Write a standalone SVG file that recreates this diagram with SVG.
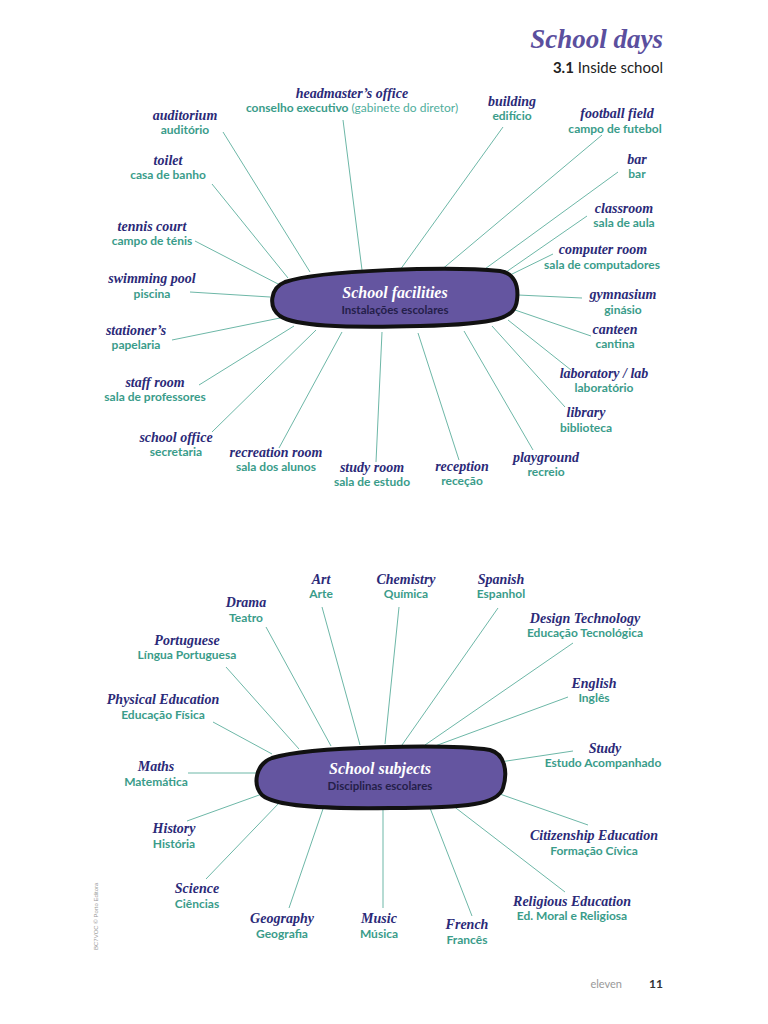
<svg xmlns="http://www.w3.org/2000/svg" width="768" height="1024" viewBox="0 0 768 1024">
<style>
.en{font-family:"Liberation Serif","DejaVu Serif",serif;font-style:italic;font-weight:bold;font-size:14px;fill:#2b2a78;text-anchor:middle}
.pt{font-family:Lato,"Open Sans",sans-serif;font-weight:bold;font-size:12px;fill:#3a9c8a;text-anchor:middle}
.lt{font-weight:normal;fill:#4fae9d}
.cn line{stroke:#6db7a7;stroke-width:1}
.hub{fill:#6455a0;stroke:#111;stroke-width:4;stroke-linejoin:round}
.ht{font-family:"Liberation Serif","DejaVu Serif",serif;font-style:italic;font-weight:bold;font-size:16px;fill:#fff;text-anchor:middle}
.hs{font-family:Lato,"Open Sans",sans-serif;font-weight:bold;font-size:11.5px;fill:#24204a;text-anchor:middle}
</style>
<rect width="768" height="1024" fill="#fff"/>
<g id="header">
<text x="663" y="48" text-anchor="end" font-family="Liberation Serif,serif" font-style="italic" font-weight="bold" font-size="27" fill="#5b4f9e">School days</text>
<text x="663" y="73" text-anchor="end" font-family="Lato,'Open Sans',sans-serif" font-size="15" fill="#222"><tspan font-weight="bold">3.1</tspan> Inside school</text>
</g>
<g class="cn" id="connectors">
<line x1="343" y1="120" x2="362" y2="270"/>
<line x1="223" y1="132" x2="310" y2="272"/>
<line x1="503" y1="127" x2="400" y2="270"/>
<line x1="602" y1="135" x2="440" y2="271"/>
<line x1="212" y1="184" x2="288" y2="278"/>
<line x1="618" y1="172" x2="478" y2="274"/>
<line x1="587" y1="216" x2="496" y2="279"/>
<line x1="195" y1="241" x2="280" y2="285"/>
<line x1="553" y1="254" x2="508" y2="276"/>
<line x1="190" y1="292" x2="270" y2="297"/>
<line x1="582" y1="298" x2="518" y2="295"/>
<line x1="172" y1="340" x2="280" y2="318"/>
<line x1="591" y1="336" x2="515" y2="310"/>
<line x1="571" y1="370" x2="508" y2="320"/>
<line x1="199" y1="385" x2="294" y2="326"/>
<line x1="565" y1="407" x2="492" y2="326"/>
<line x1="212" y1="432" x2="316" y2="330"/>
<line x1="279" y1="448" x2="342" y2="332"/>
<line x1="376" y1="462" x2="382" y2="332"/>
<line x1="459" y1="460" x2="418" y2="333"/>
<line x1="533" y1="450" x2="464" y2="331"/>
<line x1="322" y1="607" x2="360" y2="745"/>
<line x1="399" y1="607" x2="385" y2="744"/>
<line x1="498" y1="608" x2="402" y2="745"/>
<line x1="266" y1="627" x2="331" y2="746"/>
<line x1="573" y1="643" x2="425" y2="745"/>
<line x1="226" y1="667" x2="299" y2="749"/>
<line x1="568" y1="697" x2="435" y2="746"/>
<line x1="213" y1="722" x2="272" y2="754"/>
<line x1="573" y1="751" x2="500" y2="762"/>
<line x1="188" y1="773" x2="257" y2="773"/>
<line x1="187" y1="821" x2="262" y2="794"/>
<line x1="588" y1="825" x2="497" y2="793"/>
<line x1="206" y1="879" x2="280" y2="802"/>
<line x1="565" y1="892" x2="452" y2="805"/>
<line x1="289" y1="908" x2="324" y2="806"/>
<line x1="383" y1="908" x2="383" y2="807"/>
<line x1="472" y1="916" x2="430" y2="808"/>
</g>
<g id="hub-facilities">
<path class="hub" d="M285,282 C320,270 450,266 500,271 C514,273 519,285 517,300 C515,318 500,324 420,326 C340,328 295,326 280,316 C268,307 270,288 285,282 Z"/>
<text class="ht" x="395" y="298">School facilities</text>
<text class="hs" x="395" y="314">Instalações escolares</text>
</g>
<g id="hub-subjects">
<path class="hub" d="M272,758 C310,746 450,744 490,750 C505,754 508,772 503,788 C498,804 470,808 390,808 C320,809 274,806 262,795 C252,784 256,764 272,758 Z"/>
<text class="ht" x="380" y="774">School subjects</text>
<text class="hs" x="380" y="790">Disciplinas escolares</text>
</g>
<g id="n-headmaster"><text class="en" x="352" y="98">headmaster’s office</text><text class="pt" x="352" y="112">conselho executivo <tspan class="lt">(gabinete do diretor)</tspan></text></g>
<g id="n-auditorium"><text class="en" x="185" y="120">auditorium</text><text class="pt" x="185" y="134">auditório</text></g>
<g id="n-building"><text class="en" x="512" y="106">building</text><text class="pt" x="512" y="120">edifício</text></g>
<g id="n-football"><text class="en" x="617" y="118">football field</text><text class="pt" x="615" y="133">campo de futebol</text></g>
<g id="n-toilet"><text class="en" x="168" y="165">toilet</text><text class="pt" x="168" y="179">casa de banho</text></g>
<g id="n-bar"><text class="en" x="637" y="164">bar</text><text class="pt" x="637" y="178">bar</text></g>
<g id="n-classroom"><text class="en" x="624" y="213">classroom</text><text class="pt" x="624" y="227">sala de aula</text></g>
<g id="n-tennis"><text class="en" x="152" y="231">tennis court</text><text class="pt" x="152" y="245">campo de ténis</text></g>
<g id="n-computer"><text class="en" x="603" y="254">computer room</text><text class="pt" x="602" y="269">sala de computadores</text></g>
<g id="n-pool"><text class="en" x="152" y="283">swimming pool</text><text class="pt" x="152" y="298">piscina</text></g>
<g id="n-gym"><text class="en" x="623" y="299">gymnasium</text><text class="pt" x="623" y="314">ginásio</text></g>
<g id="n-stationer"><text class="en" x="136" y="335">stationer’s</text><text class="pt" x="136" y="349">papelaria</text></g>
<g id="n-canteen"><text class="en" x="615" y="334">canteen</text><text class="pt" x="615" y="348">cantina</text></g>
<g id="n-lab"><text class="en" x="604" y="378">laboratory / lab</text><text class="pt" x="604" y="392">laboratório</text></g>
<g id="n-staff"><text class="en" x="155" y="387">staff  room</text><text class="pt" x="155" y="401">sala de professores</text></g>
<g id="n-library"><text class="en" x="586" y="417">library</text><text class="pt" x="586" y="432">biblioteca</text></g>
<g id="n-office"><text class="en" x="176" y="442">school office</text><text class="pt" x="176" y="456">secretaria</text></g>
<g id="n-recreation"><text class="en" x="276" y="457">recreation room</text><text class="pt" x="276" y="471">sala dos alunos</text></g>
<g id="n-study-room"><text class="en" x="372" y="472">study room</text><text class="pt" x="372" y="486">sala de estudo</text></g>
<g id="n-reception"><text class="en" x="462" y="471">reception</text><text class="pt" x="462" y="485">receção</text></g>
<g id="n-playground"><text class="en" x="546" y="462">playground</text><text class="pt" x="546" y="476">recreio</text></g>
<g id="n-art"><text class="en" x="321" y="584">Art</text><text class="pt" x="321" y="598">Arte</text></g>
<g id="n-chemistry"><text class="en" x="406" y="584">Chemistry</text><text class="pt" x="406" y="598">Química</text></g>
<g id="n-spanish"><text class="en" x="501" y="584">Spanish</text><text class="pt" x="501" y="598">Espanhol</text></g>
<g id="n-drama"><text class="en" x="246" y="607">Drama</text><text class="pt" x="246" y="622">Teatro</text></g>
<g id="n-design"><text class="en" x="585" y="623">Design Technology</text><text class="pt" x="585" y="637">Educação Tecnológica</text></g>
<g id="n-portuguese"><text class="en" x="187" y="645">Portuguese</text><text class="pt" x="187" y="659">Língua Portuguesa</text></g>
<g id="n-english"><text class="en" x="594" y="688">English</text><text class="pt" x="594" y="702">Inglês</text></g>
<g id="n-pe"><text class="en" x="163" y="704">Physical Education</text><text class="pt" x="163" y="719">Educação Física</text></g>
<g id="n-study"><text class="en" x="605" y="753">Study</text><text class="pt" x="603" y="767">Estudo Acompanhado</text></g>
<g id="n-maths"><text class="en" x="156" y="771">Maths</text><text class="pt" x="156" y="786">Matemática</text></g>
<g id="n-history"><text class="en" x="174" y="833">History</text><text class="pt" x="174" y="848">História</text></g>
<g id="n-citizenship"><text class="en" x="594" y="840">Citizenship Education</text><text class="pt" x="594" y="855">Formação Cívica</text></g>
<g id="n-science"><text class="en" x="197" y="893">Science</text><text class="pt" x="197" y="908">Ciências</text></g>
<g id="n-religious"><text class="en" x="572" y="906">Religious Education</text><text class="pt" x="572" y="920">Ed. Moral e Religiosa</text></g>
<g id="n-geography"><text class="en" x="282" y="923">Geography</text><text class="pt" x="282" y="938">Geografia</text></g>
<g id="n-music"><text class="en" x="379" y="923">Music</text><text class="pt" x="379" y="938">Música</text></g>
<g id="n-french"><text class="en" x="467" y="929">French</text><text class="pt" x="467" y="944">Francês</text></g>
<g id="footer">
<text x="98" y="950" transform="rotate(-90 98 950)" font-family="Liberation Sans,sans-serif" font-size="6" fill="#999">BC7VOC © Porto Editora</text>
<text x="622" y="988" text-anchor="end" font-family="Lato,'Open Sans',sans-serif" font-size="11" fill="#999">eleven</text>
<text x="663" y="988" text-anchor="end" font-family="Lato,'Open Sans',sans-serif" font-weight="bold" font-size="12" fill="#333">11</text>
</g>
</svg>
